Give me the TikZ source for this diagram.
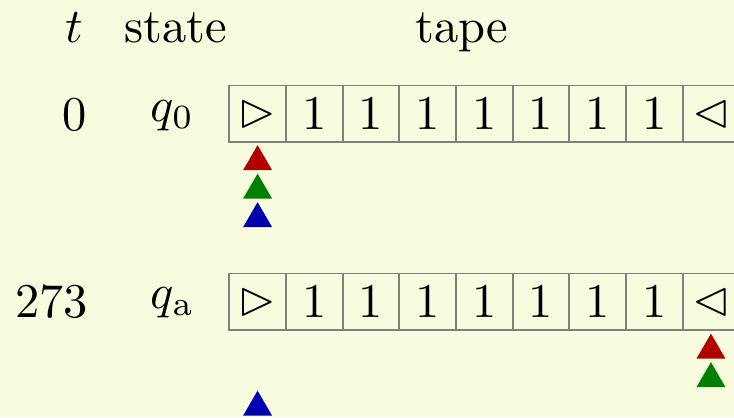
\documentclass[tikz,border=0pt]{standalone}
\usepackage{amssymb}
\usetikzlibrary{calc}
\definecolor{paper}{RGB}{248,252,222}
\definecolor{headred}{RGB}{176,0,0}
\definecolor{headgreen}{RGB}{0,128,0}
\definecolor{headblue}{RGB}{0,0,176}
\definecolor{cellline}{RGB}{128,128,128}
% head marker below a tape cell: colour, cell name, offset below the cell
\newcommand\headmark[3]{\fill[#1] ($(#2.south)+(0,#3)$) -- ++(14.5,25) -- ++(-29,0) -- cycle;}
\begin{document}
\begin{tikzpicture}[x=0.2062pt,y=-0.2062pt,
  cellbox/.style={draw=cellline,line width=0.4pt,minimum width=11.685pt,
    minimum height=11.685pt,inner sep=0pt,outer sep=0pt},
  txt/.style={anchor=base,inner sep=0pt,outer sep=0pt}]
  \fill[paper] (0,0) rectangle (734,417);
  \useasboundingbox (0,0) rectangle (734,417);
  \clip (0,0) rectangle (734,417);

  % column headings
  \node[txt] (ht) at (74.5,42) {$t$};
  \node[txt] (hs) at (176,42) {state};
  \node[txt] (hp) at (462,42) {tape};

  % configuration at step 0
  \node[txt] (t0) at (75,130) {$0$};
  \node[txt] (s0) at (172.5,121) {$q_0$};
  \node[cellbox] (a0) at (257.6,113.8) {$\vartriangleright$};
  \foreach \i in {1,...,7}
    \node[cellbox] (a\i) at (257.6+56.67*\i,113.8) {1};
  \node[cellbox] (a8) at (257.6+56.67*8,113.8) {$\vartriangleleft$};
  \headmark{headred}{a0}{3}
  \headmark{headgreen}{a0}{31.5}
  \headmark{headblue}{a0}{60}

  % configuration at step 273
  \node[txt] (t1) at (51.5,317) {$273$};
  \node[txt] (s1) at (172.5,308) {$q_{\mathrm{a}}$};
  \node[cellbox] (b0) at (257.6,301.8) {$\vartriangleright$};
  \foreach \i in {1,...,7}
    \node[cellbox] (b\i) at (257.6+56.67*\i,301.8) {1};
  \node[cellbox] (b8) at (257.6+56.67*8,301.8) {$\vartriangleleft$};
  \headmark{headred}{b8}{3.5}
  \headmark{headgreen}{b8}{32}
  \headmark{headblue}{b0}{60.5}
\end{tikzpicture}
\end{document}
